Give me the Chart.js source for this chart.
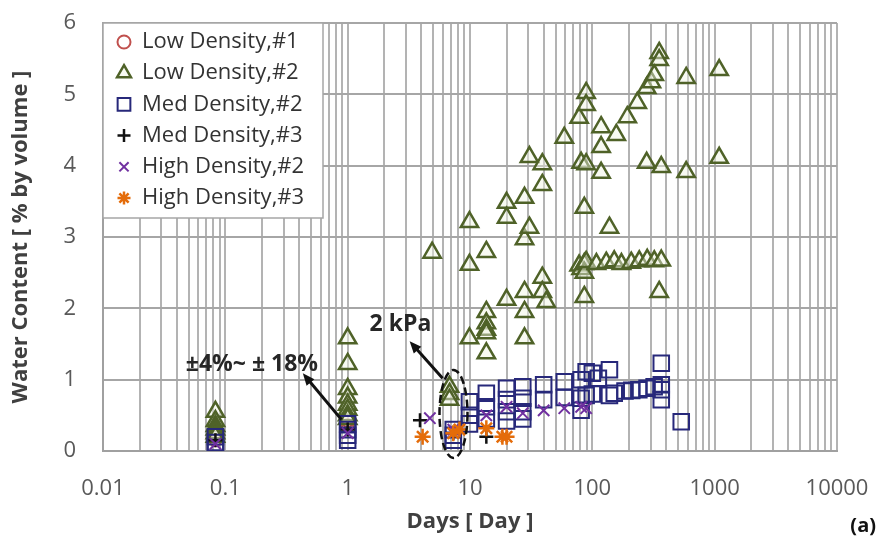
<!DOCTYPE html>
<html>
<head>
<meta charset="utf-8">
<script src="https://cdn.jsdelivr.net/npm/chart.js@4"></script>
<style>
  html, body { margin: 0; padding: 0; background: #fff; }
</style>
</head>
<body>
<canvas id="waterChart" width="880" height="542"></canvas>
<script>
// [days, water content %]
const lowDensity1 = [[0.083, 0.15], [1, 0.42], [1, 0.36]];
const lowDensity2 = [
  [0.083, 0.55], [0.083, 0.42], [0.083, 0.35], [0.083, 0.3], [0.083, 0.25], [0.083, 0.2],
  [1, 1.58], [1, 1.22], [1, 0.87], [1, 0.75], [1, 0.65], [1, 0.58], [1, 0.5], [1, 0.45],
  [4.9, 2.78], [6.8, 0.9], [6.8, 0.8], [6.8, 0.72],
  [9.9, 3.21], [9.9, 2.61], [9.9, 1.58],
  [13.6, 2.79], [13.6, 1.95], [13.6, 1.79], [13.6, 1.7], [13.6, 1.65], [13.6, 1.37],
  [19.9, 3.48], [19.9, 3.27], [19.9, 2.12],
  [27.9, 3.55], [27.9, 2.97], [27.9, 2.23], [27.9, 1.95], [27.9, 1.58],
  [30.6, 4.12], [30.6, 3.13],
  [39, 4.02], [39, 3.73], [39, 2.43], [39, 2.23], [42, 2.09],
  [59, 4.39], [78, 4.67], [78, 2.6], [81, 4.04], [81, 2.55],
  [86, 3.41], [86, 2.62], [86, 2.5], [86, 2.16],
  [89, 5.02], [89, 4.85], [89, 4.02], [89, 2.65],
  [108, 2.62], [118, 4.54], [118, 4.26], [118, 3.9], [130, 2.64], [138, 3.13],
  [151, 2.66], [157, 4.43], [173, 2.62], [193, 4.68], [208, 2.64], [233, 4.88],
  [242, 2.66], [278, 5.09], [278, 4.04], [281, 2.68], [304, 5.17], [321, 5.27], [321, 2.66],
  [352, 5.58], [352, 5.48], [352, 2.23], [366, 3.98], [366, 2.67],
  [585, 5.23], [585, 3.91], [1089, 5.34], [1089, 4.11]
];
const medDensity2 = [
  [0.083, 0.2], [0.083, 0.12], [0.083, 0.05],
  [1, 0.38], [1, 0.3], [1, 0.22], [1, 0.15],
  [7.3, 0.3], [7.3, 0.22], [7.3, 0.15],
  [9.9, 0.69], [9.9, 0.5], [9.9, 0.38],
  [13.6, 0.81], [13.6, 0.62], [13.6, 0.45],
  [19.9, 0.88], [19.9, 0.72], [19.9, 0.55], [19.9, 0.42],
  [27, 0.9], [27, 0.74], [27, 0.55], [27, 0.45],
  [40, 0.93], [40, 0.72], [59, 0.97], [59, 0.75],
  [81, 1.0], [81, 0.74], [81, 0.57], [89, 1.11], [89, 0.78],
  [100, 1.09], [100, 0.8], [112, 1.02], [138, 1.14], [138, 0.78], [151, 0.81],
  [185, 0.84], [210, 0.85], [240, 0.86], [280, 0.88], [320, 0.9],
  [366, 1.23], [366, 0.93], [366, 0.86], [366, 0.72], [533, 0.41]
];
const medDensity3 = [[0.083, 0.15], [1, 0.3], [3.9, 0.43], [7.3, 0.25], [13.6, 0.2]];
const highDensity2 = [
  [0.083, 0.1], [1, 0.25], [4.7, 0.46], [7.3, 0.3], [13.6, 0.5], [19.9, 0.62],
  [27, 0.53], [40, 0.57], [59, 0.6], [81, 0.62], [89, 0.6]
];
const highDensity3 = [[4.1, 0.2], [7.3, 0.25], [8.2, 0.3], [13.6, 0.32], [18.4, 0.2], [19.9, 0.2]];

const seriesNames = ["Low Density,#1", "Low Density,#2", "Med Density,#2", "Med Density,#3", "High Density,#2", "High Density,#3"];
const dayLabels = ["0.01", "0.1", "1", "10", "100", "1000", "10000"];
const waterTicks = [0, 1, 2, 3, 4, 5, 6];

// annotation anchors in data units [days, water]
const errNote = { text: "\u00b14%~ \u00b1 18%", at: [0.165, 1.22], from: [0.89, 0.44], to: [0.43, 1.09] };
const kpaNote = { text: "2 kPa", at: [2.7, 1.77], from: [5.97, 1.02], to: [3.21, 1.54] };
const ellipseAt = [7.33, 0.52];

const FONT = "'Open Sans', Lato, sans-serif";

// minor log grid: 1..9 x 10^n
const logTicks = [];
for (let e = -2; e <= 4; e++) {
  for (let m = 1; m <= 9; m++) {
    const v = Number((m * Math.pow(10, e)).toPrecision(3));
    if (v <= 10000) logTicks.push(v);
  }
}

const toXY = (arr) => arr.map(([d, w]) => ({ x: d, y: w }));

const styles = [
  { pointStyle: "circle", radius: 6, borderColor: "#C0504D", backgroundColor: "rgba(0,0,0,0)", borderWidth: 2 },
  { pointStyle: "triangle", radius: 10, borderColor: "#4F6228", backgroundColor: "rgba(240,244,226,0.45)", borderWidth: 2.5 },
  { pointStyle: "rect", radius: 11, borderColor: "#27287A", backgroundColor: "rgba(0,0,0,0)", borderWidth: 2 },
  { pointStyle: "cross", radius: 7, borderColor: "#111111", backgroundColor: "#111111", borderWidth: 2.5 },
  { pointStyle: "crossRot", radius: 8, borderColor: "#7030A0", backgroundColor: "#7030A0", borderWidth: 2 },
  { pointStyle: "star", radius: 8, borderColor: "#E46C0A", backgroundColor: "#E46C0A", borderWidth: 2.5 }
];

const allSeries = [lowDensity1, lowDensity2, medDensity2, medDensity3, highDensity2, highDensity3];
const datasets = allSeries.map((pts, i) => ({
  label: seriesNames[i],
  data: toXY(pts),
  pointStyle: styles[i].pointStyle,
  pointRadius: styles[i].radius,
  pointBorderColor: styles[i].borderColor,
  pointBackgroundColor: styles[i].backgroundColor,
  pointBorderWidth: styles[i].borderWidth,
  order: allSeries.length - i // later series on top, like Excel
}));

function arrow(ctx, x1, y1, x2, y2) {
  const ang = Math.atan2(y2 - y1, x2 - x1);
  const head = 13;
  ctx.beginPath();
  ctx.moveTo(x1, y1);
  ctx.lineTo(x2 - Math.cos(ang) * head * 0.8, y2 - Math.sin(ang) * head * 0.8);
  ctx.stroke();
  ctx.beginPath();
  ctx.moveTo(x2, y2);
  ctx.lineTo(x2 - head * Math.cos(ang - 0.4), y2 - head * Math.sin(ang - 0.4));
  ctx.lineTo(x2 - head * Math.cos(ang + 0.4), y2 - head * Math.sin(ang + 0.4));
  ctx.closePath();
  ctx.fill();
}

const notesPlugin = {
  id: "notes",
  afterDatasetsDraw(chart) {
    const { ctx, scales: { x, y } } = chart;
    const px = (p) => [x.getPixelForValue(p[0]), y.getPixelForValue(p[1])];
    ctx.save();
    ctx.strokeStyle = "#111";
    ctx.fillStyle = "#111";
    // dashed ring round the 2 kPa points
    const [ex, ey] = px(ellipseAt);
    ctx.lineWidth = 2.5;
    ctx.setLineDash([8, 4]);
    ctx.beginPath();
    ctx.ellipse(ex, ey, 14, 44, 0, 0, Math.PI * 2);
    ctx.stroke();
    ctx.setLineDash([]);
    ctx.lineWidth = 3;
    [errNote, kpaNote].forEach((n) => {
      const a = px(n.from), b = px(n.to);
      arrow(ctx, a[0], a[1], b[0], b[1]);
      const [tx, ty] = px(n.at);
      ctx.font = "bold 23px " + FONT;
      ctx.fillStyle = "#262626";
      ctx.textAlign = "center";
      ctx.textBaseline = "middle";
      ctx.fillText(n.text, tx, ty);
      ctx.fillStyle = "#111";
    });
    // (a) tag
    ctx.font = "bold 20px " + FONT;
    ctx.fillStyle = "#111";
    ctx.textAlign = "right";
    ctx.fillText("(a)", 876, 526);
    ctx.restore();
  }
};

const legendPlugin = {
  id: "boxLegend",
  afterDraw(chart) {
    const { ctx, chartArea } = chart;
    const left = chartArea.left, top = chartArea.top;
    const w = 220, h = 195, rowH = 31.2;
    ctx.save();
    ctx.fillStyle = "#fff";
    ctx.fillRect(left, top, w, h);
    ctx.strokeStyle = "#A6A6A6";
    ctx.lineWidth = 1.5;
    ctx.strokeRect(left, top, w, h);
    chart.data.datasets.forEach((ds, i) => {
      const cy = top + 19 + i * rowH;
      ctx.strokeStyle = ds.pointBorderColor;
      ctx.fillStyle = ds.pointBackgroundColor;
      ctx.lineWidth = ds.pointBorderWidth;
      Chart.helpers.drawPoint(ctx, {
        pointStyle: ds.pointStyle,
        radius: ds.pointStyle === "rect" ? 9 : ds.pointStyle === "triangle" ? 8 : 6.5,
        rotation: 0,
        borderWidth: ds.pointBorderWidth
      }, left + 21, cy);
      ctx.fillStyle = "#333333";
      ctx.font = "22px " + FONT;
      ctx.textAlign = "left";
      ctx.textBaseline = "middle";
      ctx.fillText(ds.label, left + 39, cy);
    });
    ctx.restore();
  }
};

new Chart(document.getElementById("waterChart"), {
  type: "scatter",
  data: { datasets },
  plugins: [notesPlugin, legendPlugin],
  options: {
    responsive: false,
    animation: false,
    layout: { padding: { top: 23, right: 43, left: 0, bottom: 0 } },
    plugins: { legend: { display: false }, tooltip: { enabled: false } },
    scales: {
      x: {
        type: "logarithmic",
        min: 0.01,
        max: 10000,
        afterBuildTicks: (axis) => { axis.ticks = logTicks.map((v) => ({ value: v })); },
        afterFit: (axis) => { axis.height = 91; axis.paddingLeft = 0; axis.paddingRight = 0; },
        grid: { color: "#B3B3B3", lineWidth: 2, drawTicks: false },
        border: { color: "#A0A0A0", width: 2 },
        ticks: {
          autoSkip: false,
          maxRotation: 0,
          padding: 25,
          color: "#595959",
          font: { family: FONT, size: 22 },
          callback: (v) => {
            const l = Math.log10(v);
            return Math.abs(l - Math.round(l)) < 1e-9 ? dayLabels[Math.round(l) + 2] : "";
          }
        },
        title: {
          display: true,
          text: "Days [ Day ]",
          color: "#404040",
          font: { family: FONT, size: 22, weight: "bold" },
          padding: { top: 7, bottom: 7 }
        }
      },
      y: {
        min: 0,
        max: 6,
        afterBuildTicks: (axis) => { axis.ticks = waterTicks.map((v) => ({ value: v })); },
        afterFit: (axis) => { axis.width = 103; axis.paddingTop = 0; axis.paddingBottom = 0; },
        grid: { color: "#A6A6A6", lineWidth: 2, drawTicks: false },
        border: { color: "#A0A0A0", width: 2 },
        ticks: {
          padding: 27,
          color: "#595959",
          font: { family: FONT, size: 22 }
        },
        title: {
          display: true,
          text: "Water Content [ % by volume ]",
          color: "#404040",
          font: { family: FONT, size: 22, weight: "bold" },
          padding: { top: 8, bottom: 8 }
        }
      }
    }
  }
});
</script>
</body>
</html>
